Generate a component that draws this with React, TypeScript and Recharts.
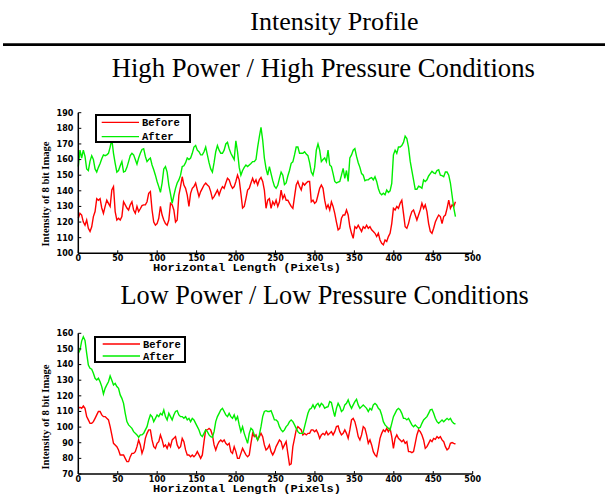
import { LineChart, Line, XAxis, YAxis, Legend, Label } from 'recharts'

// samples are ~2.125 px apart along the horizontal profile
const STEP = 2.125

const xTicks = [0, 50, 100, 150, 200, 250, 300, 350, 400, 450, 500]
const highTicks = [100, 110, 120, 130, 140, 150, 160, 170, 180, 190]
const lowTicks = [70, 80, 90, 100, 110, 120, 130, 140, 150, 160]
const seriesNames = ['Before', 'After']

const highBefore = [
  122.4, 125.6, 124.5, 120, 118, 121.3, 116, 114, 117, 123.5,
  126.7, 135, 134, 135, 129, 125.6, 130, 134, 132, 130,
  140.5, 142.7, 126.7, 121.3, 122.4, 121.3, 123.5, 133, 131, 129,
  127.7, 131, 133, 127.7, 125.6, 130, 126.7, 128.5, 130.5, 131,
  131, 133, 138.4, 139.5, 127.7, 120, 118, 119, 122.4, 130,
  124.5, 121.3, 119, 118, 121.3, 132, 131, 127.7, 120, 121.3,
  137.3, 142.7, 149, 143.7, 141.6, 137.3, 130, 138.4, 141.6, 142.7,
  145, 140.5, 136.3, 139.5, 141.6, 143.7, 145, 143.7, 142.7, 139.5,
  135, 136.3, 138.4, 140.5, 137.3, 140.5, 142.7, 141.6, 145, 148,
  147, 143.7, 141.6, 142.7, 146, 150, 147, 138.4, 129, 130,
  135, 140.5,
  141.6, 145, 148, 145, 147, 143.7, 147, 148.6, 146, 140.5,
  128.8, 134, 135, 128.8, 133, 131, 134, 130, 133, 140.5,
  135, 137.3, 134, 134, 132, 130, 128.8, 136.3, 143.7, 146,
  142.7, 140.5, 145, 143.7, 145, 146, 146, 133, 134, 132,
  133, 137.3, 141.6, 143.7, 141.6, 134, 128.8, 131, 127.7, 133,
  130, 125.6, 120, 115, 116, 122.4, 124.5, 124.5, 127.7, 124.5,
  117, 112.8, 109.6, 117, 116, 118, 116, 114, 117, 116,
  118, 116, 117, 115, 114, 112.8, 110.7, 112.8, 108.5, 106.4,
  105.4, 108.5, 107.5, 110.7, 112.8, 119, 128.8, 127.7, 130, 128.8,
  132, 134, 125.6, 117, 116, 119, 123.5, 126.7, 127.7, 124.5,
  121.3, 124.5, 127.7, 132, 128.8, 131, 126.7, 119, 114, 112.8,
  116, 120, 122.4, 124.5, 123.5, 119, 123.5, 124.5, 128.8, 134,
  128.8, 131, 130, 133,
]

const highAfter = [
  155.5, 166, 161, 166, 162, 154, 153, 159, 162.5, 160,
  154, 152, 155, 157.5, 160.5, 163, 162.5, 163, 164, 168,
  173, 164, 157.6, 152, 153, 156, 158.7, 152, 152.5, 155,
  158.7, 162.5, 164, 163, 160, 157, 161, 164, 166.5, 167,
  162, 158.7, 160, 161, 156.5, 153.5, 150, 146, 142.7, 139,
  145, 154, 155.5, 152, 143.7, 138, 132, 137, 141.6, 145,
  147, 150, 155.5, 156, 158, 161, 160, 161, 164, 168,
  169, 166, 165, 163, 163, 165, 168, 163, 158, 154,
  152, 158, 165, 169, 166, 164, 164, 166, 170, 171,
  167, 164, 162, 160, 172, 165, 155, 150, 153, 155,
  156.5, 155.5,
  156.5, 157.5, 158.7, 158.7, 160, 168, 174.6, 180.6, 172.5, 161,
  154.4, 150, 155.5, 151, 146.5, 143, 141.6, 143.5, 148, 152,
  150, 144, 145, 149.5, 153, 157.6, 158.5, 163, 168, 168,
  164, 164, 164, 165, 163.5, 162.5, 158, 152, 150, 155,
  166, 170, 166, 158.7, 160, 161, 158.7, 166, 156.5, 155.5,
  151, 146, 145, 145.5, 146, 150, 154.4, 148, 153, 146,
  161, 163, 166, 167, 162, 158, 155, 151, 150, 146.5,
  147, 147, 148, 148.5, 147, 149, 146, 141.5, 138.5, 137.5,
  138.5, 137.5, 140.5, 139, 140, 144.8, 163, 166, 164, 168,
  168, 169, 171, 175, 173.5, 168, 159, 153, 147, 141,
  141, 143, 142.5, 141.6, 147, 146, 147, 149.5, 151, 152.5,
  151.5, 151, 153, 153.5, 150, 149.7, 149, 152, 152, 150,
  145, 137, 129, 123.5,
]

const lowBefore = [
  112, 112.7, 112, 113.5, 112, 106.7, 104.6, 102.4, 102.4, 103.5,
  105.6, 107.8, 110, 110, 107.8, 106.7, 106.7, 105.6, 104.6, 100.3,
  95, 89.6, 88.6, 87.5, 85.4, 82.2, 82.2, 82.2, 80, 77.9,
  77.9, 81.1, 83.2, 83.2, 84.3, 87.5, 91.8, 88.6, 83.2, 86.4,
  92.8, 96, 98.2, 98.2, 91.8, 87.5, 86.4, 89.6, 90.7, 95,
  91.8, 87.5, 88.6, 86.4, 89.6, 87.5, 91.8, 92.8, 93.9, 88.6,
  86.4, 87.5, 92.8, 90.7, 85.4, 82.2, 82.2, 81.1, 82.2, 81.1,
  82.2, 84.3, 82.2, 80, 82.2, 90.7, 98.2, 98.2, 99.2, 98.2,
  95, 88.6, 85.4, 88.6, 90.7, 91.8, 90.7, 91.8, 89.6, 88.6,
  89.6, 84.3, 83.2, 87.5, 84.3, 80, 80, 83.2, 86.4, 84.3,
  82.2, 81.1,
  82.2, 89.6, 96, 93.9, 95, 91.8, 93.9, 96, 93.9, 88.6,
  85.4, 86.4, 88.6, 84.3, 82.2, 84.3, 87.5, 89.6, 91.8, 90.7,
  86.4, 88.6, 90.7, 83.2, 75.8, 76.5, 87.5, 92.8, 98.2, 100.3,
  99.2, 98.2, 95, 96, 95, 96, 96, 98.2, 98.2, 97.1,
  98.2, 96, 92.8, 95, 96, 95, 97.1, 95, 96, 97.1,
  95, 97.1, 100.3, 100.7, 97.1, 95, 96, 98.2, 96, 92.8,
  98.2, 104.6, 105.6, 103.5, 99.2, 93.9, 91.8, 95, 100.3, 99.2,
  95, 89.6, 91.8, 88.6, 84.3, 82.2, 81.1, 86.4, 92.8, 96,
  98.2, 97.1, 99.2, 97.1, 99.2, 93.9, 86.4, 92.8, 95, 92.8,
  91.8, 90.7, 91.8, 89.6, 90.7, 84.3, 84.3, 83.7, 84.3, 89.6,
  95, 98.2, 97.1, 95, 91.8, 86.4, 87.5, 89.6, 91.8, 90.7,
  92.8, 92.2, 93.9, 92.8, 93.9, 91.8, 90.7, 87.5, 85.4, 86.4,
  89.6, 90.1, 89.6, 89.2,
]

const lowAfter = [
  147.2, 149.3, 155, 157.8, 155.5, 147.2, 139.7, 137.6, 137, 134.4,
  131.2, 130.1, 131.2, 129, 125.9, 121.2, 124.8, 127, 129, 132.7,
  130, 127, 128, 125.9, 124.8, 120.6, 118.4, 115.2, 108.8, 103.5,
  101.4, 100.3, 99.2, 97.1, 96, 95, 93.5, 95, 95, 96,
  98.2, 100.3, 104.6, 107.8, 106.7, 103.5, 105.6, 107.8, 106.7, 108.8,
  107.8, 111, 106.7, 104.6, 108.8, 106.7, 104.6, 107.8, 110, 110.5,
  107.8, 106.7, 106.7, 105.6, 106.7, 104.6, 105.6, 103.5, 105.6, 104.6,
  102.4, 100.3, 98.2, 95, 93.9, 96, 98.2, 97.1, 95, 93.9,
  93.5, 97.1, 103.5, 106.7, 108.8, 111, 112, 110, 107.8, 106.7,
  108.8, 106.7, 105.6, 107.8, 104.6, 106.7, 101.4, 97.1, 100.3, 96,
  92.8, 89.6,
  96, 99.2, 98.2, 95, 93.9, 91.8, 95, 100.3, 106.7, 110,
  110.5, 110, 110, 110.5, 107.8, 104.6, 104.6, 103.5, 100.3, 98.2,
  97.1, 98.2, 100.3, 101.4, 103.5, 104.6, 103.5, 101.4, 99.2, 97.1,
  96, 96, 96, 100.3, 104.6, 108.8, 111.4, 112, 114.2, 112,
  114.2, 115.2, 113.1, 115.2, 114.2, 112, 112.7, 113.1, 116.3, 115.7,
  111, 106.7, 112, 115.2, 113.1, 110, 111, 114.2, 115.2, 117.4,
  114.2, 112, 114.2, 116.3, 117.8, 114.2, 112, 113.1, 114.2, 113.1,
  112, 110, 112, 111, 114.2, 115.2, 114.2, 112, 111, 107.8,
  103.5, 101.4, 100.3, 99.2, 98.2, 102.4, 106.7, 108.8, 111, 112,
  111, 108.8, 105.6, 105.6, 104.6, 105.6, 103.5, 101.4, 100.3, 101.4,
  100.3, 99.2, 99.9, 102.4, 104.6, 105.6, 106.7, 108.8, 111, 111.4,
  108.8, 105.6, 103.5, 102.4, 103.5, 104.6, 103.5, 104.6, 105.6, 104.6,
  105.6, 103.5, 102.4, 102,
]

const highRows = highBefore.map((v, i) => ({ x: i * STEP, before: v, after: highAfter[i] }))
const lowRows = lowBefore.map((v, i) => ({ x: i * STEP, before: v, after: lowAfter[i] }))

const tickFont = { fill: '#000', fontSize: 8, fontWeight: 700, fontFamily: 'DejaVu Sans' }
const axisLine = { stroke: '#000', strokeWidth: 1.5 }

type Box = { left: number; top: number; w: number; h: number; rows: number[]; x0: number; x1: number; tx: number }

function makeLegend(box: Box) {
  return (props: any) => {
    // keep the plotting order (Before, After) rather than the alphabetical one
    const items = [...(props.payload ?? [])].sort(
      (a: any, b: any) => seriesNames.indexOf(a.value) - seriesNames.indexOf(b.value),
    )
    return (
      <svg width={box.w} height={box.h} style={{ display: 'block' }}>
        <rect x={1} y={1} width={box.w - 2} height={box.h - 2} fill="#fff" stroke="#000" strokeWidth={2} />
        {items.map((p: any, i: number) => (
          <g key={p.value}>
            <line x1={box.x0} x2={box.x1} y1={box.rows[i]} y2={box.rows[i]} stroke={p.color} strokeWidth={1.3} />
            <text x={box.tx} y={box.rows[i] + 3.5} fontSize={10.5} fontWeight={700} fontFamily="Liberation Mono" fill="#000">
              {p.value}
            </text>
          </g>
        ))}
      </svg>
    )
  }
}

interface PanelProps {
  rows: { x: number; before: number; after: number }[]
  top: number
  marginTop: number
  marginBottom: number
  domain: [number, number]
  ticks: number[]
  yLabelY: number
  xLabelY: number
  legend: Box
}

function Panel({ rows, top, marginTop, marginBottom, domain, ticks, yLabelY, xLabelY, legend }: PanelProps) {
  return (
    <div style={{ position: 'absolute', left: 0, top }}>
      <LineChart width={500} height={180} data={rows} margin={{ top: marginTop, right: 27.3, bottom: marginBottom, left: 0 }}>
        <XAxis
          dataKey="x"
          type="number"
          domain={[0, 500]}
          ticks={xTicks}
          interval={0}
          height={20}
          tick={tickFont}
          axisLine={axisLine}
          tickLine={{ stroke: '#000' }}
          tickSize={-3}
          tickMargin={5}
        >
          <Label
            content={() => (
              <text x={247} y={xLabelY} textAnchor="middle" fontSize={10.5} fontWeight={700} fontFamily="Liberation Mono" fill="#000" textLength={188} lengthAdjust="spacingAndGlyphs">
                Horizontal Length (Pixels)
              </text>
            )}
          />
        </XAxis>
        <YAxis
          type="number"
          domain={domain}
          ticks={ticks}
          interval={0}
          width={78.3}
          tick={tickFont}
          axisLine={axisLine}
          tickLine={{ stroke: '#000' }}
          tickSize={-3}
          tickMargin={8}
        >
          <Label
            content={() => (
              <text
                x={49}
                y={yLabelY}
                transform={`rotate(-90, 49, ${yLabelY})`}
                textAnchor="middle"
                fontSize={11}
                fontWeight={700}
                fontFamily="Liberation Serif"
                fill="#000"
                textLength={105}
                lengthAdjust="spacingAndGlyphs"
              >
                Intensity of 8 bit Image
              </text>
            )}
          />
        </YAxis>
        <Legend
          verticalAlign="middle"
          align="center"
          layout="horizontal"
          wrapperStyle={{ left: legend.left, top: legend.top, width: legend.w, height: legend.h }}
          content={makeLegend(legend)}
        />
        <Line type="linear" dataKey="before" name="Before" stroke="#ff0000" strokeWidth={1.4} dot={false} isAnimationActive={false} />
        <Line type="linear" dataKey="after" name="After" stroke="#00ee00" strokeWidth={1.4} dot={false} isAnimationActive={false} />
      </LineChart>
    </div>
  )
}

export default function App() {
  return (
    <div style={{ position: 'absolute', left: 0, top: 0, width: 605, height: 495, background: '#fff', overflow: 'hidden' }}>
      <svg width={605} height={495} style={{ position: 'absolute', left: 0, top: 0 }}>
        <text x={334.5} y={30} textAnchor="middle" fontSize={26} fontFamily="Liberation Serif" fill="#000">
          Intensity Profile
        </text>
        <line x1={3} x2={605} y1={44.7} y2={44.7} stroke="#000" strokeWidth={2.7} />
        <text x={323.3} y={77.3} textAnchor="middle" fontSize={26.7} fontFamily="Liberation Serif" fill="#000">
          High Power / High Pressure Conditions
        </text>
        <text x={324.7} y={304} textAnchor="middle" fontSize={26.3} fontFamily="Liberation Serif" fill="#000">
          Low Power / Low Pressure Conditions
        </text>
      </svg>
      <Panel
        rows={highRows}
        top={95}
        marginTop={17.7}
        marginBottom={1.7}
        domain={[100, 190]}
        ticks={highTicks}
        yLabelY={99}
        xLabelY={176}
        legend={{ left: 95, top: 19, w: 96, h: 29, rows: [8.3, 22.7], x0: 6.7, x1: 44, tx: 47 }}
      />
      <Panel
        rows={lowRows}
        top={315}
        marginTop={18.3}
        marginBottom={1}
        domain={[70, 160]}
        ticks={lowTicks}
        yLabelY={102}
        xLabelY={177}
        legend={{ left: 94, top: 21, w: 92, h: 27, rows: [8, 20], x0: 8.7, x1: 46, tx: 49 }}
      />
    </div>
  )
}
